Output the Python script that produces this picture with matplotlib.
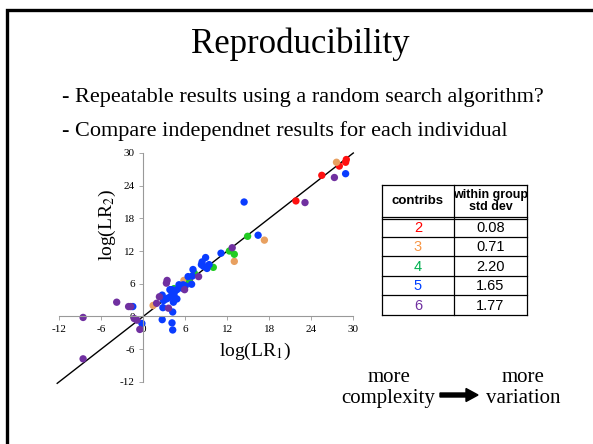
import matplotlib
matplotlib.use("Agg")
import matplotlib.pyplot as plt
from matplotlib.patches import Rectangle, FancyArrow

plt.rcParams['font.family'] = ['Liberation Serif', 'DejaVu Serif']
plt.rcParams['mathtext.fontset'] = 'stix'
plt.rcParams['axes.unicode_minus'] = False

W, H = 593, 444

# scatter data: (log LR1, log LR2) per number of contributors
red_x = [25.5, 21.8, 6.6, 28.0, 28.9, 29.0]
red_y = [25.9, 21.2, 6.7, 27.6, 28.3, 28.8]
orange_x = [27.6, 17.3, 13.0, 5.8, 1.4]
orange_y = [28.3, 14.0, 10.1, 6.6, 2.0]
green_x = [14.9, 12.3, 13.0, 10.0, 7.3, 6.6, 4.4]
green_y = [14.7, 12.0, 11.4, 9.0, 7.9, 6.3, 5.1]
blue_x = [28.9, 14.4, 16.4, 11.1, 8.9, 8.4, 8.6, 9.4, 9.1, 8.3, 7.1, 7.0, 6.4,
          6.9, 5.1, 5.5, 6.0, 5.7, 4.8, 4.1, 3.8, 4.0, 4.4, 4.5, 4.8, 4.3, 3.6,
          3.3, 2.7, 2.9, 2.8, 4.2, 2.7, 4.1, 4.2, -0.2, -1.5]
blue_y = [26.2, 21.0, 14.9, 11.6, 10.8, 10.0, 9.2, 9.5, 8.8, 9.5, 8.6, 7.4, 7.3,
          5.9, 5.8, 5.2, 5.6, 5.8, 4.9, 4.9, 4.9, 3.8, 4.2, 3.4, 3.2, 2.6, 3.4,
          3.2, 3.9, 2.9, 1.6, 0.8, -0.6, -1.2, -2.5, -1.3, 1.8]
purple_x = [27.3, 23.1, 12.7, 7.9, 3.4, 3.3, 5.9, 2.3, 1.9, 3.6, -0.5, -0.9,
            -1.3, -2.1, -1.8, -3.8, -8.6, -8.6]
purple_y = [25.5, 20.9, 12.6, 7.3, 6.6, 6.1, 4.9, 3.6, 2.4, 1.5, -2.4, -0.7,
            -0.4, 1.8, 1.8, 2.6, -0.2, -7.8]

line_x = [-12.3, 30]
ticks = [-12, -6, 0, 6, 12, 18, 24, 30]

contribs = ['2', '3', '4', '5', '6']
std_dev = ['0.08', '0.71', '2.20', '1.65', '1.77']
row_colors = ['#FF0000', '#F79646', '#00B050', '#0040FF', '#7030A0']
point_colors = ['#FF1010', '#E8A060', '#22CC22', '#0A3CFF', '#7030A0']


def fx(x):
    return x / W


def fy(y):
    return 1 - y / H


fig = plt.figure(figsize=(W / 100, H / 100), dpi=100)

# slide frame (only top and left edges inside the crop)
fig.add_artist(Rectangle((fx(7), -0.2), 1.2, fy(10) + 0.2, transform=fig.transFigure,
                         fill=False, edgecolor='black', lw=2.4))

fig.text(fx(300), fy(53), 'Reproducibility', ha='center', va='baseline', fontsize=25)
fig.text(fx(62), fy(102), '- Repeatable results using a random search algorithm?',
         ha='left', va='baseline', fontsize=16)
fig.text(fx(62), fy(136), '- Compare independnet results for each individual',
         ha='left', va='baseline', fontsize=16)

# scatter plot
ax = fig.add_axes([fx(59.3), fy(381.7), 294 / W, 228.7 / H])
ax.set_xlim(-12, 30)
ax.set_ylim(-12, 30)
ax.plot(line_x, line_x, color='black', lw=1, clip_on=False, zorder=1)
groups = [(red_x, red_y), (orange_x, orange_y), (green_x, green_y),
          (blue_x, blue_y), (purple_x, purple_y)]
for (gx, gy), c in zip(groups, point_colors):
    ax.scatter(gx, gy, s=28, color=c, edgecolors='none', zorder=2, clip_on=False)

for side in ['top', 'right']:
    ax.spines[side].set_visible(False)
ax.spines['left'].set_position(('data', 0))
ax.spines['bottom'].set_position(('data', 0))
for side in ['left', 'bottom']:
    ax.spines[side].set_color('#999999')
    ax.spines[side].set_linewidth(0.8)
ax.set_xticks(ticks)
ax.set_yticks(ticks)
ax.tick_params(direction='out', length=3, width=0.6, color='#999999',
               labelsize=8, pad=3)
ax.set_xlabel('log(LR$_1$)', fontsize=14)
ax.set_ylabel('log(LR$_2$)', fontsize=14)
ax.xaxis.set_label_coords(0.666, 0.178)
ax.yaxis.set_label_coords(0.198, 0.685)
ax.patch.set_alpha(0)

# table drawn in pixel space
tab = fig.add_axes([0, 0, 1, 1])
tab.set_xlim(0, W)
tab.set_ylim(H, 0)
tab.axis('off')
tx = [382, 454, 527]
ty = [185, 217, 236.7, 256, 275.7, 295, 315]
for y in ty:
    tab.plot([tx[0], tx[2]], [y, y], color='black', lw=0.9)
tab.plot([tx[0], tx[2]], [ty[1] + 2, ty[1] + 2], color='black', lw=0.9)
for x in tx:
    tab.plot([x, x], [ty[0], ty[-1]], color='black', lw=0.9)
sans = ['Liberation Sans', 'DejaVu Sans']
tab.text((tx[0] + tx[1]) / 2, 201, 'contribs', ha='center', va='center',
         fontsize=9.5, fontweight='bold', family=sans)
tab.text((tx[1] + tx[2]) / 2, 201, 'within group\nstd dev', ha='center', va='center',
         fontsize=9, fontweight='bold', family=sans, linespacing=1.05)
for i in range(len(contribs)):
    yc = (ty[i + 1] + ty[i + 2]) / 2 + 1
    tab.text((tx[0] + tx[1]) / 2, yc, contribs[i], ha='center', va='center',
             fontsize=10.5, color=row_colors[i], family=sans)
    tab.text((tx[1] + tx[2]) / 2, yc, std_dev[i], ha='center', va='center',
             fontsize=10.5, color='black', family=sans)

# complexity -> variation
tab.text(389, 382, 'more', ha='center', va='baseline', fontsize=15)
tab.text(388, 403, 'complexity', ha='center', va='baseline', fontsize=15)
tab.text(523, 382, 'more', ha='center', va='baseline', fontsize=15)
tab.text(523, 403, 'variation', ha='center', va='baseline', fontsize=15)
tab.add_patch(FancyArrow(440, 395, 26, 0, width=4, head_width=13, head_length=12,
                         length_includes_head=False, color='black'))

fig.savefig('out.png', dpi=100)
